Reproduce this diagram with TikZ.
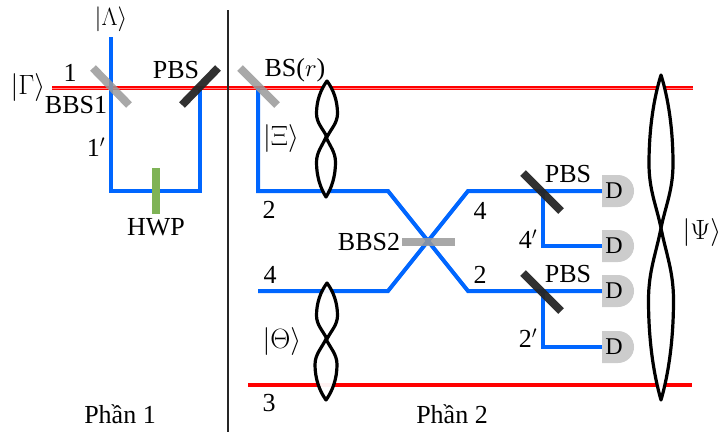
\documentclass[tikz,border=0pt]{standalone}
\usepackage{amsmath,fontspec}
\setmainfont{Liberation Serif}
\usetikzlibrary{shapes.misc}
\definecolor{beamblue}{RGB}{0,102,255}
\definecolor{beamred}{RGB}{255,0,0}
\definecolor{hwpgreen}{RGB}{127,179,86}
\tikzset{
    blue beam/.style={draw=beamblue,line width=4pt},
    red beam/.style={draw=beamred,line width=4.5pt},
    light mirror/.style={draw=black!40,opacity=0.85,line width=8pt},
    dark mirror/.style={draw=black!85,opacity=0.95,line width=8pt},
    wave/.style={draw=black,line width=3.2pt,fill=white,fill opacity=0.95,line join=round},
    detector/.style={rounded rectangle,rounded rectangle west arc=none,fill=black!20,minimum width=32pt,minimum height=32pt,inner sep=0pt,font=\fontsize{24}{26}\selectfont},
    lbl/.style={inner sep=0pt,font=\fontsize{26}{30}\selectfont},
    ket/.style={lbl,scale=1.12}
}
\begin{document}
\begin{tikzpicture}[x=1pt,y=-1pt]
    \useasboundingbox (0,0) rectangle (723,437);
    % end points of the beams
    \coordinate (rin) at (52,88);
    \coordinate (rout) at (693,88);
    \coordinate (lowin) at (248,385);
    \coordinate (lowout) at (692,385);
    \coordinate (ltop) at (111,37);
    \coordinate (lcorner) at (111,191);
    \coordinate (rcorner) at (200,191);
    \coordinate (pbsa) at (200,88);
    \coordinate (bsr) at (258,88);
    \coordinate (bsrcorner) at (258,191);
    \coordinate (fourin) at (258,291);
    \coordinate (kinkul) at (388,191);
    \coordinate (kinkll) at (388,291);
    \coordinate (kinkur) at (468,191);
    \coordinate (kinklr) at (468,291);
    \coordinate (pbsb) at (543,191);
    \coordinate (pbsc) at (543,291);
    % detectors
    \foreach \n/\y in {1/191,2/246,3/291,4/347}{
        \node[detector] (d\n) at (617,\y) {D\kern6pt};
    }
    \draw[red beam] (rin)--(rout);
    \draw[draw=white!50!beamred,line width=1pt] (rin)--(rout);
    \draw[red beam] (lowin)--(lowout);
    \draw[blue beam] (ltop)--(lcorner)--(rcorner)--(pbsa);
    \draw[blue beam] (bsr)--(bsrcorner)--(kinkul)--(kinklr)--(d3.west);
    \draw[blue beam] (fourin)--(kinkll)--(kinkur)--(d1.west);
    \draw[blue beam] (pbsb)|-(d2.west);
    \draw[blue beam] (pbsc)|-(d4.west);
    % mirrors and plates
    \draw[light mirror] (93,68)--(129,105);
    \draw[dark mirror] (182,105)--(218,68);
    \draw[light mirror] (240,68)--(277,105);
    \draw[light mirror] (402,242)--(455,242);
    \draw[dark mirror] (523,173)--(561,211);
    \draw[dark mirror] (523,273)--(561,311);
    \draw[draw=hwpgreen,line width=8pt] (156,168)--(156,214);
    \draw[line width=1.4pt,black!85] (228,10)--(228,432);
    % entangled photon lobes: centre/tip/waist/half width
    \foreach \cx/\ya/\yb/\w in {327/81/137/10.5,326/197/137/9.5,327/283/339/10.5,326/400/339/11,661/75/228/12,661/400/228/12.5}{
        \draw[wave] (\cx,\ya)
            .. controls ({\cx+.6*\w},{\ya+.15*(\yb-\ya)}) and ({\cx+\w},{\ya+.35*(\yb-\ya)}) .. ({\cx+\w},{\ya+.58*(\yb-\ya)})
            .. controls ({\cx+\w},{\ya+.75*(\yb-\ya)}) and ({\cx+.4*\w},{\ya+.85*(\yb-\ya)}) .. (\cx,\yb)
            .. controls ({\cx-.4*\w},{\ya+.85*(\yb-\ya)}) and ({\cx-\w},{\ya+.75*(\yb-\ya)}) .. ({\cx-\w},{\ya+.58*(\yb-\ya)})
            .. controls ({\cx-\w},{\ya+.35*(\yb-\ya)}) and ({\cx-.6*\w},{\ya+.15*(\yb-\ya)}) .. cycle;
    }
    % labels
    \node[lbl] (lambda) at (111,19) {$|\Lambda\rangle$};
    \node[ket] (gamma) at (28,88) {$|\Gamma\rangle$};
    \node[lbl] (one) at (70,73) {1};
    \node[lbl] (bbsa) at (76,105) {BBS1};
    \node[lbl] (oneb) at (96,147) {1$'$};
    \node[lbl] (pbsl) at (176,70) {PBS};
    \node[lbl] (bsl) at (295,70) {BS($r$)};
    \node[ket] (xi) at (281,139) {$|\Xi\rangle$};
    \node[lbl] (two) at (269,210) {2};
    \node[lbl] (hwp) at (156,227) {HWP};
    \node[lbl] (bbsb) at (369,242) {BBS2};
    \node[lbl] (fourr) at (480,211) {4};
    \node[lbl] (fourb) at (528,239) {4$'$};
    \node[lbl] (twor) at (480,275) {2};
    \node[lbl] (twob) at (528,338) {2$'$};
    \node[lbl] (pbsu) at (568,174) {PBS};
    \node[lbl] (pbsv) at (568,274) {PBS};
    \node[ket] (psi) at (702,233) {$|\Psi\rangle$};
    \node[lbl] (fourl) at (270,275) {4};
    \node[ket] (theta) at (282,342) {$|\Theta\rangle$};
    \node[lbl] (three) at (269,403) {3};
    \node[lbl] (parta) at (120,414) {Phần 1};
    \node[lbl] (partb) at (452,414) {Phần 2};
\end{tikzpicture}
\end{document}
